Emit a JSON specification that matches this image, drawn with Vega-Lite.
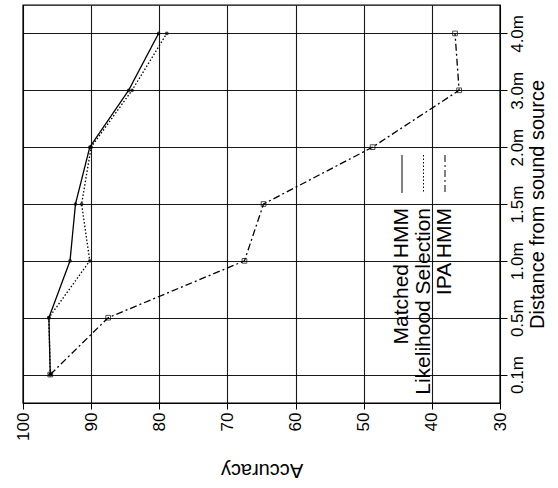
{
  "$schema": "https://vega.github.io/schema/vega-lite/v6.json",
  "width": 477,
  "height": 398,
  "autosize": {"type": "none"},
  "padding": {"left": 23, "top": 5, "right": 58, "bottom": 85},
  "background": "white",
  "config": {
    "view": {"stroke": "black", "strokeWidth": 1.4},
    "font": "Liberation Sans",
    "axis": {
      "labelFont": "Liberation Sans",
      "titleFont": "Liberation Sans",
      "labelColor": "black",
      "titleColor": "black",
      "titleFontWeight": "normal",
      "gridColor": "black",
      "gridOpacity": 0.9,
      "gridWidth": 1.1,
      "domainColor": "black",
      "tickColor": "black"
    },
    "legend": {
      "orient": "none",
      "title": null,
      "padding": 0,
      "symbolType": "M0,-1L0,1",
      "symbolSize": 1444,
      "symbolStrokeColor": "black",
      "symbolStrokeWidth": 1,
      "labelFontSize": 21,
      "labelFont": "Liberation Sans",
      "labelColor": "black",
      "labelLimit": 400,
      "labelAlign": "right",
      "labelBaseline": "middle"
    }
  },
  "data": {
    "values": [
      {"series": "Matched HMM", "distance": "0.1m", "m": 0.1, "accuracy": 96.0},
      {"series": "Matched HMM", "distance": "0.5m", "m": 0.5, "accuracy": 96.2},
      {"series": "Matched HMM", "distance": "1.0m", "m": 1.0, "accuracy": 93.1},
      {"series": "Matched HMM", "distance": "1.5m", "m": 1.5, "accuracy": 92.3},
      {"series": "Matched HMM", "distance": "2.0m", "m": 2.0, "accuracy": 90.2},
      {"series": "Matched HMM", "distance": "3.0m", "m": 3.0, "accuracy": 84.5},
      {"series": "Matched HMM", "distance": "4.0m", "m": 4.0, "accuracy": 80.1},
      {"series": "Likelihood Selection", "distance": "0.1m", "m": 0.1, "accuracy": 96.0},
      {"series": "Likelihood Selection", "distance": "0.5m", "m": 0.5, "accuracy": 96.2},
      {"series": "Likelihood Selection", "distance": "1.0m", "m": 1.0, "accuracy": 90.2},
      {"series": "Likelihood Selection", "distance": "1.5m", "m": 1.5, "accuracy": 91.4},
      {"series": "Likelihood Selection", "distance": "2.0m", "m": 2.0, "accuracy": 90.0},
      {"series": "Likelihood Selection", "distance": "3.0m", "m": 3.0, "accuracy": 84.0},
      {"series": "Likelihood Selection", "distance": "4.0m", "m": 4.0, "accuracy": 78.9},
      {"series": "IPA HMM", "distance": "0.1m", "m": 0.1, "accuracy": 96.0},
      {"series": "IPA HMM", "distance": "0.5m", "m": 0.5, "accuracy": 87.5},
      {"series": "IPA HMM", "distance": "1.0m", "m": 1.0, "accuracy": 67.5},
      {"series": "IPA HMM", "distance": "1.5m", "m": 1.5, "accuracy": 64.7},
      {"series": "IPA HMM", "distance": "2.0m", "m": 2.0, "accuracy": 48.7},
      {"series": "IPA HMM", "distance": "3.0m", "m": 3.0, "accuracy": 36.0},
      {"series": "IPA HMM", "distance": "4.0m", "m": 4.0, "accuracy": 36.6}
    ]
  },
  "resolve": {"scale": {"strokeDash": "independent"}, "legend": {"strokeDash": "independent"}},
  "layer": [
    {
      "transform": [{"filter": "datum.series === 'Matched HMM'"}],
      "mark": {"type": "line", "color": "black", "strokeWidth": 1.3},
      "encoding": {
        "x": {
          "field": "accuracy",
          "type": "quantitative",
          "scale": {"domain": [30, 100], "reverse": true, "nice": false, "zero": false},
          "axis": {
            "orient": "bottom",
            "values": [30, 40, 50, 60, 70, 80, 90, 100],
            "labelAngle": -90,
            "labelAlign": "right",
            "labelBaseline": "middle",
            "labelFontSize": 17,
            "labelPadding": 3,
            "tickSize": 6,
            "title": "Accuracy",
            "titleFontSize": 20,
            "titleAngle": 180,
            "titleBaseline": "bottom",
            "titlePadding": 19,
            "grid": true
          }
        },
        "y": {
          "field": "distance",
          "type": "ordinal",
          "sort": ["4.0m", "3.0m", "2.0m", "1.5m", "1.0m", "0.5m", "0.1m"],
          "scale": {"type": "point", "padding": 0.5},
          "axis": {
            "orient": "right",
            "labelAngle": -90,
            "labelAlign": "center",
            "labelBaseline": "top",
            "labelFontSize": 17,
            "labelPadding": 2,
            "tickSize": 7,
            "title": "Distance from sound source",
            "titleFontSize": 20,
            "titleAngle": -90,
            "titleBaseline": "top",
            "titlePadding": 2,
            "grid": true
          }
        },
        "order": {"field": "m", "type": "quantitative"},
        "strokeDash": {
          "field": "series",
          "type": "nominal",
          "scale": {"domain": ["Matched HMM"], "range": [[1, 0]]},
          "legend": {
            "legendX": 369,
            "legendY": 149,
            "encode": {
              "symbols": {"update": {"x": {"value": 10}, "y": {"value": 20}}},
              "labels": {"update": {"x": {"value": 10}, "y": {"value": 54}, "angle": {"value": -90}, "align": {"value": "right"}, "baseline": {"value": "middle"}}}
            }
          }
        }
      }
    },
    {
      "transform": [{"filter": "datum.series === 'Likelihood Selection'"}],
      "mark": {"type": "line", "color": "black", "strokeWidth": 1.3},
      "encoding": {
        "x": {"field": "accuracy", "type": "quantitative"},
        "y": {"field": "distance", "type": "ordinal", "sort": ["4.0m", "3.0m", "2.0m", "1.5m", "1.0m", "0.5m", "0.1m"]},
        "order": {"field": "m", "type": "quantitative"},
        "strokeDash": {
          "field": "series",
          "type": "nominal",
          "scale": {"domain": ["Likelihood Selection"], "range": [[1.5, 2]]},
          "legend": {
            "legendX": 390.5,
            "legendY": 149,
            "encode": {
              "symbols": {"update": {"x": {"value": 10}, "y": {"value": 20}}},
              "labels": {"update": {"x": {"value": 10}, "y": {"value": 54}, "angle": {"value": -90}, "align": {"value": "right"}, "baseline": {"value": "middle"}}}
            }
          }
        }
      }
    },
    {
      "transform": [{"filter": "datum.series === 'IPA HMM'"}],
      "mark": {"type": "line", "color": "black", "strokeWidth": 1.3},
      "encoding": {
        "x": {"field": "accuracy", "type": "quantitative"},
        "y": {"field": "distance", "type": "ordinal", "sort": ["4.0m", "3.0m", "2.0m", "1.5m", "1.0m", "0.5m", "0.1m"]},
        "order": {"field": "m", "type": "quantitative"},
        "strokeDash": {
          "field": "series",
          "type": "nominal",
          "scale": {"domain": ["IPA HMM"], "range": [[7, 3, 2, 3]]},
          "legend": {
            "legendX": 412,
            "legendY": 149,
            "encode": {
              "symbols": {"update": {"x": {"value": 10}, "y": {"value": 20}}},
              "labels": {"update": {"x": {"value": 10}, "y": {"value": 54}, "angle": {"value": -90}, "align": {"value": "right"}, "baseline": {"value": "middle"}}}
            }
          }
        }
      }
    },
    {
      "transform": [{"filter": "datum.series !== 'IPA HMM'"}],
      "mark": {"type": "point", "filled": true, "color": "black", "size": 14},
      "encoding": {
        "x": {"field": "accuracy", "type": "quantitative"},
        "y": {"field": "distance", "type": "ordinal", "sort": ["4.0m", "3.0m", "2.0m", "1.5m", "1.0m", "0.5m", "0.1m"]}
      }
    },
    {
      "transform": [{"filter": "datum.series === 'IPA HMM'"}],
      "mark": {"type": "square", "filled": false, "color": "black", "size": 22, "strokeWidth": 1},
      "encoding": {
        "x": {"field": "accuracy", "type": "quantitative"},
        "y": {"field": "distance", "type": "ordinal", "sort": ["4.0m", "3.0m", "2.0m", "1.5m", "1.0m", "0.5m", "0.1m"]}
      }
    }
  ]
}
